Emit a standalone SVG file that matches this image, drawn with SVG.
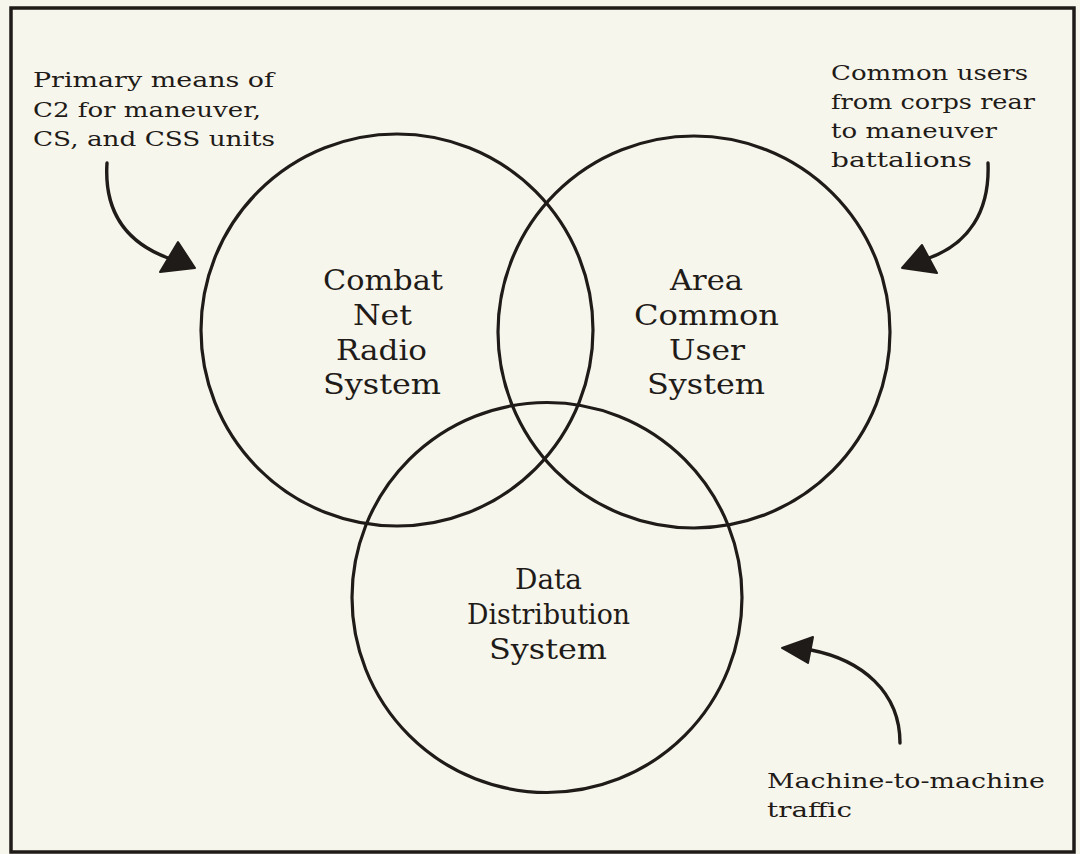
<svg xmlns="http://www.w3.org/2000/svg" width="1080" height="854" viewBox="0 0 1080 854">
  <style>
    .ring { fill: none; stroke: #1f1b18; stroke-width: 3.2; }
    .label { font-family: "DejaVu Serif", "Liberation Serif", serif; font-size: 28px; fill: #1f1b18; }
    .note { font-family: "DejaVu Serif", "Liberation Serif", serif; font-size: 21px; fill: #1f1b18; }
    .wire { fill: none; stroke: #1f1b18; stroke-width: 3.4; stroke-linecap: round; }
    .tip { fill: #1f1b18; stroke: #1f1b18; stroke-width: 2; stroke-linejoin: round; }
  </style>

  <!-- page and frame -->
  <rect x="0" y="0" width="1080" height="854" fill="#f7f6ec"/>
  <rect x="11" y="8" width="1063" height="844" fill="#f7f6ec" stroke="#1f1b18" stroke-width="3.5"/>

  <!-- Combat Net Radio System -->
  <g id="cnr">
    <circle class="ring" cx="397" cy="330" r="196"/>
    <text class="label" x="323" y="290" textLength="120" lengthAdjust="spacingAndGlyphs">Combat</text>
    <text class="label" x="353" y="325" textLength="59" lengthAdjust="spacingAndGlyphs">Net</text>
    <text class="label" x="336" y="360" textLength="91" lengthAdjust="spacingAndGlyphs">Radio</text>
    <text class="label" x="323" y="394" textLength="118" lengthAdjust="spacingAndGlyphs">System</text>
  </g>

  <!-- Area Common User System -->
  <g id="acus">
    <circle class="ring" cx="694" cy="332" r="196"/>
    <text class="label" x="670" y="290" textLength="73" lengthAdjust="spacingAndGlyphs">Area</text>
    <text class="label" x="634" y="325" textLength="145" lengthAdjust="spacingAndGlyphs">Common</text>
    <text class="label" x="669" y="360" textLength="76" lengthAdjust="spacingAndGlyphs">User</text>
    <text class="label" x="647" y="394" textLength="118" lengthAdjust="spacingAndGlyphs">System</text>
  </g>

  <!-- Data Distribution System -->
  <g id="dds">
    <circle class="ring" cx="547" cy="597.5" r="195"/>
    <text class="label" x="515" y="589" textLength="67" lengthAdjust="spacingAndGlyphs">Data</text>
    <text class="label" x="467" y="624" textLength="163" lengthAdjust="spacingAndGlyphs">Distribution</text>
    <text class="label" x="489" y="659" textLength="118" lengthAdjust="spacingAndGlyphs">System</text>
  </g>

  <!-- callout notes -->
  <g id="note-cnr">
    <text class="note" x="33" y="87" textLength="241" lengthAdjust="spacingAndGlyphs">Primary means of</text>
    <text class="note" x="33" y="117" textLength="228" lengthAdjust="spacingAndGlyphs">C2 for maneuver,</text>
    <text class="note" x="33" y="146" textLength="242" lengthAdjust="spacingAndGlyphs">CS, and CSS units</text>
  </g>
  <g id="note-acus">
    <text class="note" x="831" y="80" textLength="197" lengthAdjust="spacingAndGlyphs">Common users</text>
    <text class="note" x="831" y="109" textLength="204" lengthAdjust="spacingAndGlyphs">from corps rear</text>
    <text class="note" x="831" y="138" textLength="166" lengthAdjust="spacingAndGlyphs">to maneuver</text>
    <text class="note" x="831" y="167" textLength="141" lengthAdjust="spacingAndGlyphs">battalions</text>
  </g>
  <g id="note-dds">
    <text class="note" x="767" y="788" textLength="278" lengthAdjust="spacingAndGlyphs">Machine-to-machine</text>
    <text class="note" x="767" y="817" textLength="85" lengthAdjust="spacingAndGlyphs">traffic</text>
  </g>

  <!-- pointer arrows from the notes to the circles -->
  <g id="connectors">
    <path class="wire" d="M107,163 C104,210 125,242 168,258"/>
    <polygon class="tip" points="178,242 195,268 160,272"/>
    <path class="wire" d="M988,163 C990,212 968,244 929,258"/>
    <polygon class="tip" points="922,245 937,273 902,268"/>
    <path class="wire" d="M900,743 C900,692 862,660 811,650"/>
    <polygon class="tip" points="813,637 808,663 782,648"/>
  </g>
</svg>
